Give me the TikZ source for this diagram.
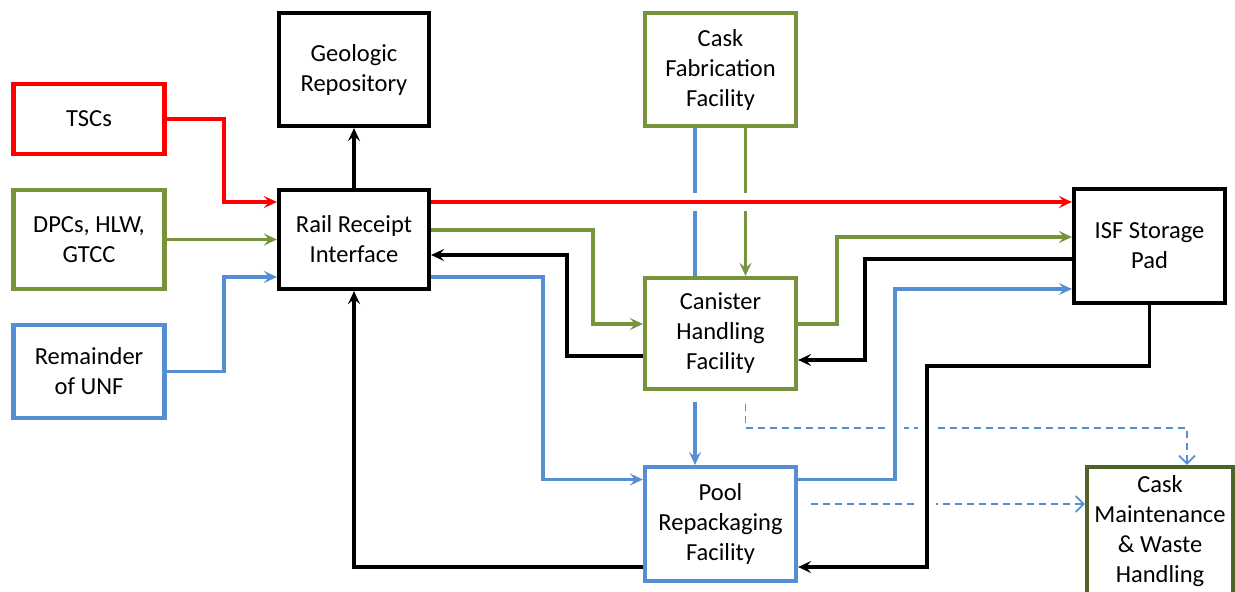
\documentclass[tikz,border=0pt]{standalone}
\usepackage{fontspec}
\setmainfont{Carlito}
\usetikzlibrary{arrows.meta, positioning}
\definecolor{tscred}{HTML}{FF0000}
\definecolor{dpcgreen}{HTML}{77933C}
\definecolor{unfblue}{HTML}{558ED5}
\definecolor{maintgreen}{HTML}{4F6228}

\begin{document}
\begin{tikzpicture}[x=1pt, y=-1pt,
		box/.style={draw, line width=4.2pt, fill=white, align=center, minimum width=151pt, inner sep=2pt, font=\fontsize{24.5}{30}\selectfont},
		flow/.style={line width=3.8pt, -{Stealth[length=13pt, width=12pt, inset=5pt]}},
		link/.style={line width=3.8pt},
		cut/.style={preaction={draw=white, line width=18pt, -}},
		dashflow/.style={draw=unfblue, line width=1.8pt, dash pattern=on 7pt off 5pt, -{Straight Barb[length=8pt, width=16pt]}, shorten <=13pt}]
	\path[use as bounding box, clip] (0,0) rectangle (1235,592);

	%sources:
	\node[box, draw=tscred, minimum height=70pt] (tsc) at (89,119) {TSCs};
	\node[box, draw=dpcgreen, minimum height=99pt] (dpc) at (89,239.5) {DPCs, HLW,\\GTCC};
	\node[box, draw=unfblue, minimum height=93pt] (unf) at (89,371.5) {Remainder\\of UNF};

	%facilities:
	\node[box, minimum height=113pt, minimum width=150pt] (geo) at (354,69.5) {Geologic\\Repository};
	\node[box, minimum height=99pt, minimum width=150pt] (rail) at (354,239.5) {Rail Receipt\\Interface};
	\node[box, draw=dpcgreen, minimum height=113pt] (fab) at (720.5,69.5) {Cask\\Fabrication\\Facility};
	\node[box, draw=dpcgreen, minimum height=111pt] (chf) at (720.5,333.5) {Canister\\Handling\\Facility};
	\node[box, minimum height=114pt] (isf) at (1149.5,246) {ISF Storage\\Pad};
	\node[box, draw=unfblue, minimum height=114pt] (pool) at (720.5,524) {Pool\\Repackaging\\Facility};
	\node[box, draw=maintgreen, minimum width=146pt, minimum height=128pt] (maint) at (1160,531) {Cask\\Maintenance\\\& Waste\\Handling};

	%dashed:
	\draw[dashflow] ([xshift=25pt]chf.south) -- ++(0,37) -| ([xshift=27pt]maint.north);
	\draw[dashflow] ([yshift=20pt]pool.east) -- ([yshift=20pt]pool.east -| maint.west);

	%from cask fabrication:
	\draw[link, draw=unfblue] ([xshift=-25.5pt]fab.south) -- ([xshift=-25.5pt]chf.north);
	\draw[flow, draw=unfblue] ([xshift=-25.5pt,yshift=-11pt]chf.south) -- ([xshift=-25.5pt]pool.north);
	\draw[flow, draw=dpcgreen] ([xshift=25pt]fab.south) -- ([xshift=25pt]chf.north);

	%into rail receipt:
	\draw[flow, draw=tscred] (tsc.east) -- ++(57,0) |- ([yshift=37.5pt]rail.west);
	\draw[flow, draw=dpcgreen] (dpc.east) -- (rail.west);
	\draw[flow, draw=unfblue] (unf.east) -- ++(57,0) |- ([yshift=-37.5pt]rail.west);
	\draw[flow] (rail.north) -- (geo.south);

	%out of rail receipt:
	\draw[flow, draw=tscred, cut] ([yshift=37.5pt]rail.east) -- ([yshift=37.5pt]rail.east -| isf.west);
	\draw[flow, draw=dpcgreen] ([yshift=9.5pt]rail.east) -- ++(162,0) |- ([yshift=9.5pt]chf.west);
	\draw[flow] ([yshift=-22.5pt]chf.west) -- ++(-76,0) |- ([yshift=-15.5pt]rail.east);
	\draw[flow, draw=unfblue] ([yshift=-37.5pt]rail.east) -- ++(112,0) |- ([yshift=44.5pt]pool.west);

	%storage pad:
	\draw[flow, draw=dpcgreen] ([yshift=9.5pt]chf.east) -- ++(39,0) |- ([yshift=9pt]isf.west);
	\draw[flow] ([yshift=-13pt]isf.west) -- ++(-207,0) |- ([yshift=-26.5pt]chf.east);
	\draw[flow, draw=unfblue, cut] ([yshift=44.5pt]pool.east) -- ++(97,0) |- ([yshift=-43pt]isf.west);
	\draw[flow, cut] (isf.south) -- ++(0,61) -- ++(-222.5,0) |- ([yshift=-43pt]pool.east);
	\draw[flow] ([yshift=-43pt]pool.west) -| (rail.south);
\end{tikzpicture}
\end{document}
